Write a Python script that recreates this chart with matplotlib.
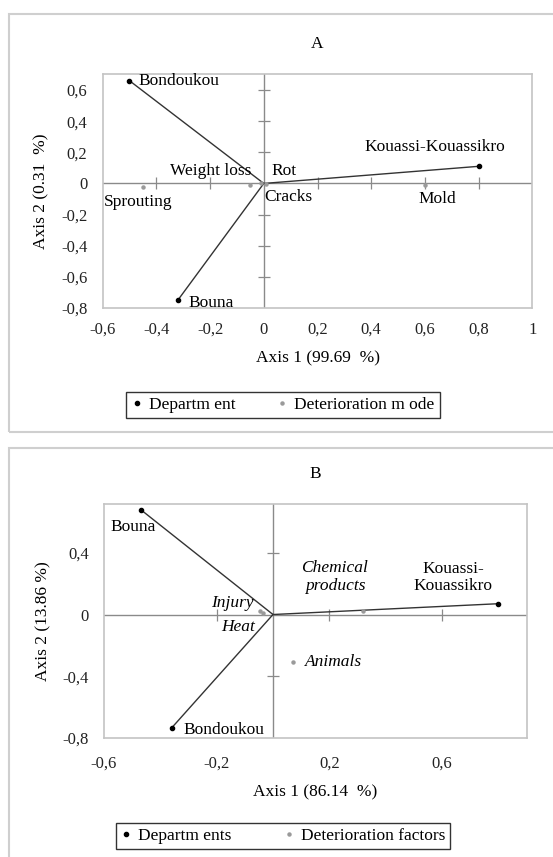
import matplotlib
matplotlib.use("Agg")
import matplotlib.pyplot as plt
from matplotlib.lines import Line2D
from matplotlib.patches import Rectangle

plt.rcParams['font.family'] = ['Liberation Serif', 'DejaVu Serif']

# ---- Panel A data ----
a_dept = ["Bondoukou", "Kouassi-Kouassikro", "Bouna"]
a_dept_x = [-0.50, 0.80, -0.32]
a_dept_y = [0.66, 0.11, -0.75]
a_mode = ["Sprouting", "Weight loss", "Rot", "Cracks", "Mold"]
a_mode_x = [-0.45, -0.05, -0.01, 0.01, 0.60]
a_mode_y = [-0.02, -0.01, 0.005, -0.005, -0.01]
a_xticks = [-0.6, -0.4, -0.2, 0, 0.2, 0.4, 0.6, 0.8, 1]
a_xlabels = ["-0,6", "-0,4", "-0,2", "0", "0,2", "0,4", "0,6", "0,8", "1"]
a_yticks = [-0.8, -0.6, -0.4, -0.2, 0, 0.2, 0.4, 0.6]
a_ylabels = ["-0,8", "-0,6", "-0,4", "-0,2", "0", "0,2", "0,4", "0,6"]

# ---- Panel B data ----
b_dept = ["Bouna", "Kouassi-\nKouassikro", "Bondoukou"]
b_dept_x = [-0.47, 0.80, -0.36]
b_dept_y = [0.68, 0.07, -0.735]
b_fact = ["Injury", "Heat", "Chemical\nproducts", "Animals"]
b_fact_x = [-0.045, -0.035, 0.32, 0.07]
b_fact_y = [0.02, 0.01, 0.02, -0.31]
b_xticks = [-0.6, -0.2, 0.2, 0.6]
b_xlabels = ["-0,6", "-0,2", "0,2", "0,6"]
b_yticks = [-0.8, -0.4, 0, 0.4]
b_ylabels = ["-0,8", "-0,4", "0", "0,4"]

W, H = 553, 857
fig = plt.figure(figsize=(W / 100, H / 100), dpi=100)

# outer panel frames
for (top, bot) in [(14, 432), (448, 870)]:
    fig.patches.append(Rectangle((9 / W, 1 - bot / H), 1.2, (bot - top) / H,
                                 transform=fig.transFigure, fill=False,
                                 edgecolor="#cfcfcf", lw=1.5))

FS = 12.5
TFS = 12
FRAME = "#c4c4c4"


def setup(ax, xlim, ylim, xt, xl, yt, yl, xlab, ylab, title, xcross, ycross, xpad):
    ax.set_xlim(*xlim)
    ax.set_ylim(*ylim)
    ax.set_xticks(xt)
    ax.set_xticklabels(xl, fontsize=TFS)
    ax.set_yticks(yt)
    ax.set_yticklabels(yl, fontsize=TFS)
    ax.tick_params(axis="x", length=0, pad=xpad, colors="#222222")
    ax.tick_params(axis="y", length=0, pad=11, colors="#222222")
    for s in ax.spines.values():
        s.set_color(FRAME)
        s.set_linewidth(1.2)
    ax.axhline(0, color="#8a8a8a", lw=1.0, zorder=1)
    ax.axvline(0, color="#8a8a8a", lw=1.0, zorder=1)
    ax.plot(xcross, [0] * len(xcross), ls="none", marker="|", ms=9,
            mew=0.9, color="#8a8a8a", zorder=1)
    ax.plot([0] * len(ycross), ycross, ls="none", marker="_", ms=9,
            mew=0.9, color="#8a8a8a", zorder=1)
    ax.set_xlabel(xlab, fontsize=FS, labelpad=9)
    ax.set_ylabel(ylab, fontsize=FS, labelpad=8)
    ax.set_title(title, fontsize=FS, pad=19)


# ---------------- Panel A ----------------
axA = fig.add_axes([102.6 / W, 1 - 308 / H, (532.4 - 102.6) / W, (308 - 74) / H])
setup(axA, (-0.6, 1.0), (-0.8, 0.703), a_xticks, a_xlabels, a_yticks, a_ylabels,
      "Axis 1 (99.69  %)", "Axis 2 (0.31  %)", "A",
      [t for t in a_xticks if t not in (-0.6, 0, 1)],
      [t for t in a_yticks if t not in (-0.8, 0)], 10)
for x, y in zip(a_dept_x, a_dept_y):
    axA.plot([0, x], [0, y], color="#333333", lw=1.0, zorder=2)
axA.plot(a_dept_x, a_dept_y, ls="none", marker="o", ms=3, color="black", zorder=3)
axA.plot(a_mode_x, a_mode_y, ls="none", marker="o", ms=2.2, color="#9a9a9a", zorder=3)

a_dept_pos = [(-0.465, 0.655, "left"), (0.375, 0.235, "left"), (-0.28, -0.765, "left")]
for name, (tx, ty, ha) in zip(a_dept, a_dept_pos):
    axA.text(tx, ty, name, fontsize=FS, ha=ha, va="center")
a_mode_pos = [(-0.595, -0.12, "left"), (-0.045, 0.08, "right"), (0.03, 0.08, "left"),
              (0.0, -0.09, "left"), (0.575, -0.10, "left")]
for name, (tx, ty, ha) in zip(a_mode, a_mode_pos):
    axA.text(tx, ty, name, fontsize=FS, ha=ha, va="center")

fig.legend(handles=[Line2D([], [], ls="none", marker="o", ms=3, color="black"),
                    Line2D([], [], ls="none", marker="o", ms=2.2, color="#9a9a9a")],
           labels=["Departm ent", "Deterioration m ode"], ncol=2,
           loc="center", bbox_to_anchor=(283 / W, 1 - 405 / H), fontsize=FS,
           frameon=True, fancybox=False, edgecolor="black", handlelength=0.6,
           handletextpad=0.4, columnspacing=2.4, borderpad=0.3, borderaxespad=0)

# ---------------- Panel B ----------------
axB = fig.add_axes([104 / W, 1 - 738 / H, (526.5 - 104) / W, (738 - 504) / H])
setup(axB, (-0.6, 0.9), (-0.8, 0.716), b_xticks, b_xlabels, b_yticks, b_ylabels,
      "Axis 1 (86.14  %)", "Axis 2 (13.86 %)", "B",
      [-0.2, 0.2, 0.6], [-0.4, 0.4], 13)
for x, y in zip(b_dept_x, b_dept_y):
    axB.plot([0, x], [0, y], color="#333333", lw=1.0, zorder=2)
axB.plot(b_dept_x, b_dept_y, ls="none", marker="o", ms=3, color="black", zorder=3)
axB.plot(b_fact_x, b_fact_y, ls="none", marker="o", ms=2.2, color="#9a9a9a", zorder=3)

b_dept_pos = [(-0.578, 0.57, "left"), (0.64, 0.24, "center"), (-0.318, -0.75, "left")]
for name, (tx, ty, ha) in zip(b_dept, b_dept_pos):
    axB.text(tx, ty, name, fontsize=FS, ha=ha, va="center", linespacing=1.15)
b_fact_pos = [(-0.07, 0.077, "right"), (-0.065, -0.084, "right"),
              (0.22, 0.245, "center"), (0.112, -0.31, "left")]
for name, (tx, ty, ha) in zip(b_fact, b_fact_pos):
    axB.text(tx, ty, name, fontsize=FS, ha=ha, va="center", style="italic",
             linespacing=1.15)

fig.legend(handles=[Line2D([], [], ls="none", marker="o", ms=3, color="black"),
                    Line2D([], [], ls="none", marker="o", ms=2.2, color="#9a9a9a")],
           labels=["Departm ents", "Deterioration factors"], ncol=2,
           loc="center", bbox_to_anchor=(283 / W, 1 - 836 / H), fontsize=FS,
           frameon=True, fancybox=False, edgecolor="black", handlelength=0.6,
           handletextpad=0.4, columnspacing=3.0, borderpad=0.3, borderaxespad=0)

fig.savefig("out.png", dpi=100)
